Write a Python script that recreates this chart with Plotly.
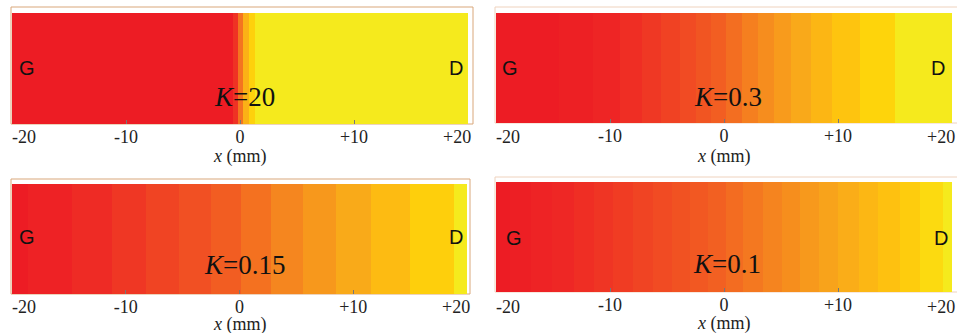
import plotly.graph_objects as go

W, H = 957, 333

# ---- data ----
k_labels = ["<i>K</i>=20", "<i>K</i>=0.3", "<i>K</i>=0.15", "<i>K</i>=0.1"]

# band edges along x (mm) and level (0..1) of each band
edges_k20 = [-20, -0.6, -0.2, 0.3, 0.8, 1.3, 20]
levels_k20 = [0.0, 0.2, 0.55, 0.8, 0.93, 1.0]

edges_k03 = [-20, -14.5, -11.5, -9.1, -7.2, -5.5, -3.9, -2.5, -1.1, 0.2, 1.55,
             3.0, 4.4, 5.9, 7.6, 9.5, 11.9, 15.0, 20]
levels_k03 = [i / 17 for i in range(18)]

edges_k015 = [-20, -18.6, -14.7, -11.2, -8.2, -5.3, -2.5, 0.13, 2.8, 5.6, 8.5,
              11.6, 15.0, 18.9, 20]
levels_k015 = [i / 13 for i in range(14)]

edges_k01 = [-20, -18.8, -16.9, -15.1, -13.2, -11.4, -9.7, -8.0, -6.25, -4.6,
             -3.0, -1.4, 0.2, 1.7, 3.45, 5.06, 6.67, 8.36, 10.0, 11.8, 13.5,
             15.4, 17.2, 19.2, 20]
levels_k01 = [i / 23 for i in range(24)]

tick_vals = [-20, -10, 0, 10, 20]
tick_text = ["-20", "-10", "0", "+10", "+20"]

panels = [
    (edges_k20, levels_k20),
    (edges_k03, levels_k03),
    (edges_k015, levels_k015),
    (edges_k01, levels_k01),
]

# ---- style / layout ----
cscale = [[0, '#ed1c24'], [0.12, '#ee2525'], [0.3, '#f04323'], [0.47, '#f25e22'],
          [0.6, '#f5821f'], [0.76, '#f9a81a'], [0.88, '#fec30f'], [0.94, '#fed40b'],
          [1, '#f5ea1d']]

# pixel boxes of heatmaps: (left, top, right, bottom)
boxes = [(12, 13, 468, 124), (496, 13, 952, 123), (12, 184, 467, 294), (496, 182, 952, 292)]
frames = [(11, 7, 473, 124, '#d9a77a'), (495, 7, 958, 123, '#efd2bd'),
          (11, 179, 470, 294, '#d9a77a'), (495, 177, 958, 292, '#efd2bd')]
# label positions (px): G (left x, y), D (right x, y), K (center x, y), ticks y, title y
lab = [
    dict(g=(17, 68), d=(465, 68), k=(245, 97), ty=137, xt=156),
    dict(g=(500, 68), d=(947, 68), k=(728, 97), ty=137, xt=156),
    dict(g=(17, 237), d=(465, 237), k=(245, 265), ty=307, xt=324),
    dict(g=(504, 238), d=(950, 238), k=(727, 264), ty=307, xt=323),
]

def px(x):
    return x / W

def py(y):
    return 1 - y / H

fig = go.Figure()
annotations = []
shapes = []
serif = "Liberation Serif"
sans = "Liberation Sans"
TF = 17

for i, ((edges, levels), box, fr, lb, kl) in enumerate(zip(panels, boxes, frames, lab, k_labels)):
    n = i + 1
    xa = f"x{n if n > 1 else ''}"
    ya = f"y{n if n > 1 else ''}"
    fig.add_trace(go.Heatmap(
        x=edges, y=[0, 1], z=[levels], zmin=0, zmax=1,
        colorscale=cscale, showscale=False, zsmooth=False,
        xaxis=xa, yaxis=ya, hoverinfo="skip"))
    l, t, r, b = box
    fig.layout[f"xaxis{n if n > 1 else ''}"] = dict(
        domain=[px(l), px(r)], range=[-20, 20], anchor=ya,
        tickvals=tick_vals[1:-1], ticktext=tick_text[1:-1],
        ticks="inside", ticklen=4, tickcolor="#777", tickwidth=1,
        showgrid=False, zeroline=False, showline=False,
        tickfont=dict(family=serif, size=TF + 1, color="#222"),
        ticklabelstandoff=0)
    fig.layout[f"yaxis{n if n > 1 else ''}"] = dict(
        domain=[py(b), py(t)], range=[0, 1], anchor=xa, visible=False)
    # end tick labels aligned inward
    annotations.append(dict(x=tick_vals[0], xref=xa, y=py(lb['ty']), yref="paper",
                            text=tick_text[0], showarrow=False, xanchor="left", yanchor="middle",
                            font=dict(family=serif, size=TF + 1, color="#222"), xshift=-2))
    annotations.append(dict(x=tick_vals[-1], xref=xa, y=py(lb['ty']), yref="paper",
                            text=tick_text[-1], showarrow=False, xanchor="right", yanchor="middle",
                            font=dict(family=serif, size=TF + 1, color="#222"), xshift=5))
    annotations.append(dict(x=0, xref=xa, y=py(lb['xt']), yref="paper",
                            text="<i>x</i> (mm)", showarrow=False, yanchor="middle",
                            font=dict(family=serif, size=TF + 1, color="#222")))
    annotations.append(dict(x=px(lb['g'][0]), xref="paper", y=py(lb['g'][1]), yref="paper",
                            text="G", showarrow=False, xanchor="left", yanchor="middle",
                            font=dict(family=sans, size=20, color="#111")))
    annotations.append(dict(x=px(lb['d'][0]), xref="paper", y=py(lb['d'][1]), yref="paper",
                            text="D", showarrow=False, xanchor="right", yanchor="middle",
                            font=dict(family=sans, size=20, color="#111")))
    annotations.append(dict(x=px(lb['k'][0]), xref="paper", y=py(lb['k'][1]), yref="paper",
                            text=kl, showarrow=False, xanchor="center", yanchor="middle",
                            font=dict(family=serif, size=27, color="#111")))
    fl, ft, frr, fb, fc = fr
    shapes.append(dict(type="rect", xref="paper", yref="paper",
                       x0=px(fl), x1=px(frr), y0=py(fb), y1=py(ft),
                       line=dict(color=fc, width=1), layer="below"))

fig.update_layout(width=W, height=H, margin=dict(l=0, r=0, t=0, b=0),
                  paper_bgcolor="white", plot_bgcolor="white",
                  annotations=annotations, shapes=shapes, showlegend=False)

fig.write_html("out.html", config={"displayModeBar": False},
               post_script="document.body.style.margin='0';document.body.style.overflow='hidden';")
